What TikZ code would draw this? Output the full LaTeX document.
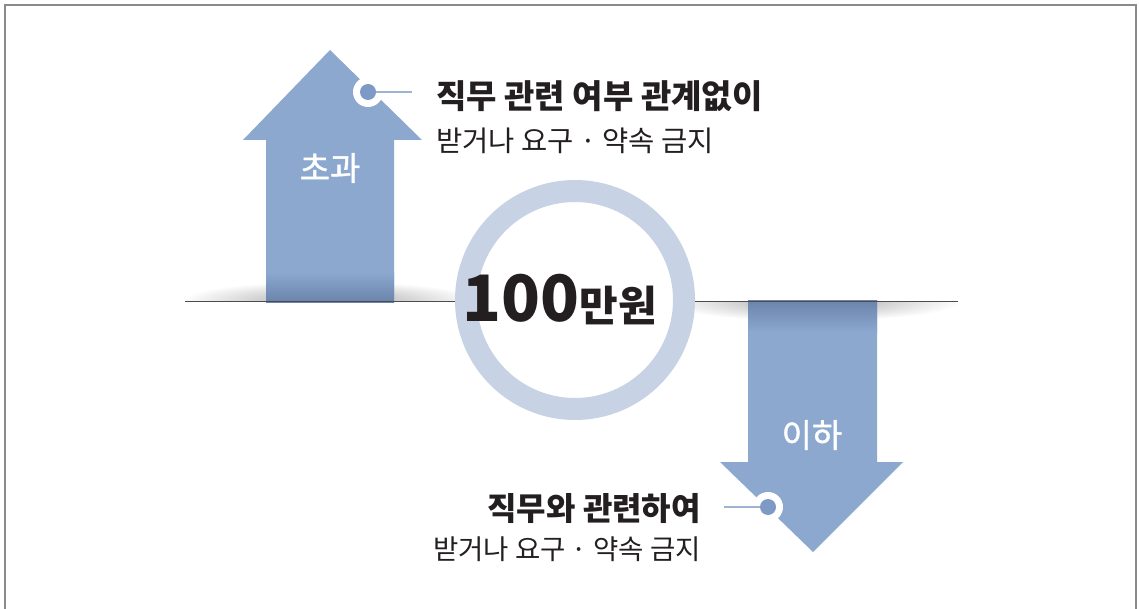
\documentclass[tikz,border=0pt]{standalone}
\usepackage{fontspec}
\setmainfont{Noto Sans CJK KR}
\newfontfamily\krmed[FakeBold=1.2]{Noto Sans CJK KR}
\usetikzlibrary{shapes.geometric}
\definecolor{arrowc}{HTML}{8CA8CF}
\definecolor{arrowd}{HTML}{6A84AC}
\definecolor{dotc}{HTML}{7D9AC6}
\definecolor{ringc}{HTML}{C7D2E5}
\definecolor{txtc}{HTML}{231F20}
\definecolor{leadc}{HTML}{9FB3D3}
\definecolor{framec}{HTML}{8A8A8A}
\tikzset{
  titletext/.style={inner sep=0pt, text=txtc, font=\bfseries\fontsize{33}{33}\selectfont},
  subtext/.style={inner sep=0pt, text=txtc, font=\fontsize{28.5}{28.5}\selectfont},
  arrowlabel/.style={inner sep=0pt, text=white, font=\krmed\fontsize{33}{33}\selectfont},
  dotring/.style={circle, fill=white, minimum size=30pt, inner sep=0pt},
  dotin/.style={circle, fill=dotc, minimum size=16pt, inner sep=0pt},
  leader/.style={draw=leadc, line width=1.2pt},
  baseline/.style={draw=black!70, line width=1pt}
}
\begin{document}
\begin{tikzpicture}[x=1pt,y=-1pt]
\useasboundingbox (0,0) rectangle (1139,609);
\fill[white] (0,0) rectangle (1139,609);
% frame
\draw[framec, line width=2pt] (5,620) -- (5,5) -- (1136,5) -- (1136,620);
% shadows
\begin{scope}
  \clip (180,270) rectangle (470,301);
  \shade[inner color=black!35, outer color=white] (330,301) ellipse (150 and 20);
\end{scope}
\begin{scope}
  \clip (690,301) rectangle (960,335);
  \shade[inner color=black!35, outer color=white] (812,301) ellipse (150 and 20);
\end{scope}
% up arrow
\fill[arrowc] (266,302) -- (266,140) -- (243,140) -- (330,50) -- (422,140) -- (394,140) -- (394,302) -- cycle;
\shade[top color=arrowc, bottom color=arrowd] (266,272) rectangle (394,302);
% down arrow
\fill[arrowc] (748,300) -- (748,462) -- (720,462) -- (813,552) -- (903,462) -- (877,462) -- (877,300) -- cycle;
\shade[top color=arrowd, bottom color=arrowc] (748,300) rectangle (877,332);
% baseline
\draw[baseline] (185,301) -- (958,301);
% circle
\node[circle, draw=ringc, line width=22pt, fill=white, minimum size=218pt, inner sep=0pt] (ring) at (575,300) {};
\node[inner sep=0pt, text=txtc] (amount) at (560,300) {\bfseries\fontsize{64}{64}\selectfont 100\fontsize{42}{42}\selectfont 만원};
% arrow labels
\node[arrowlabel] (over) at (330,168) {초과};
\node[arrowlabel] (under) at (812,435) {이하};
% top callout
\node[dotring] (tdotr) at (368,92) {};
\node[dotin] (tdot) at (368,92) {};
\coordinate (tlead) at (412,92);
\draw[leader] (tdot) -- (tlead);
\node[titletext, anchor=west] (ttitle) at (436,96) {직무 관련 여부 관계없이};
\node[subtext, anchor=west] (tsub) at (436,141) {받거나 요구 · 약속 금지};
% bottom callout
\node[dotring] (bdotr) at (768,507) {};
\node[dotin] (bdot) at (768,507) {};
\coordinate (blead) at (724,507);
\draw[leader] (blead) -- (bdot);
\node[titletext, anchor=east, font=\bfseries\fontsize{32}{32}\selectfont] (btitle) at (701,509) {직무와 관련하여};
\node[subtext, anchor=east, font=\fontsize{27.5}{27.5}\selectfont] (bsub) at (701,549) {받거나 요구 · 약속 금지};
\end{tikzpicture}
\end{document}
